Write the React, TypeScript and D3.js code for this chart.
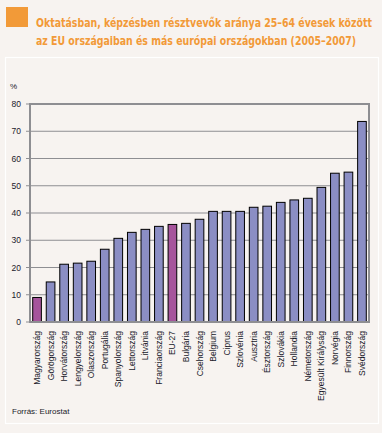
import React, { useLayoutEffect, useRef } from "react";
import * as d3 from "d3";

const categories = [
  "Magyarország", "Görögország", "Horvátország", "Lengyelország", "Olaszország",
  "Portugália", "Spanyolország", "Lettország", "Litvánia", "Franciaország",
  "EU-27", "Bulgária", "Csehország", "Belgium", "Ciprus", "Szlovénia", "Ausztria",
  "Észtország", "Szlovákia", "Hollandia", "Németország", "Egyesült Királyság",
  "Norvégia", "Finnország", "Svédország",
];
const values = [
  9.0, 14.7, 21.2, 21.6, 22.3, 26.7, 30.7, 32.9, 34.0, 35.1, 35.8, 36.2, 37.7,
  40.6, 40.6, 40.6, 42.1, 42.5, 43.9, 44.8, 45.4, 49.4, 54.6, 55.0, 73.6,
];
const highlighted = ["Magyarország", "EU-27"];
const yTicks = [0, 10, 20, 30, 40, 50, 60, 70, 80];
const titleLines = [
  "Oktatásban, képzésben résztvevők aránya 25–64 évesek között",
  "az EU országaiban és más európai országokban (2005–2007)",
];
const titleWidths = [336, 320];
const yUnit = "%";
const source = "Forrás: Eurostat";

export default function App() {
  const W = 382, H = 433;
  const left = 30, right = 369, top = 104, bottom = 322;
  const x = d3.scaleBand<string>().domain(categories).range([left, right]).paddingInner(0.36).paddingOuter(0.2);
  const y = d3.scaleLinear().domain([0, 80]).range([bottom, top]);
  const grid = "#8e8e92";
  const font = "'Liberation Sans', Arial, sans-serif";
  const titleRef = useRef<SVGGElement>(null);

  useLayoutEffect(() => {
    const g = titleRef.current;
    if (!g) return;
    d3.select(g).selectAll<SVGTextElement, unknown>("text").each(function (_, i) {
      const w = this.getComputedTextLength();
      const s = w > 0 ? titleWidths[i] / w : 1;
      d3.select(this).attr("transform", `translate(36,${27 + i * 17.5}) scale(${s},1)`);
    });
  }, []);

  return (
    <svg width={W} height={H} style={{ position: "absolute", left: 0, top: 0, display: "block" }}>
      <rect x={0} y={0} width={W} height={H} fill="#f7f3f0" />
      <rect x={5.5} y={57.5} width={373} height={366} fill="none" stroke="#ffffff" strokeWidth={1.2} />
      <rect x={6} y={7} width={22} height={20} fill="#f29a38" />
      <g ref={titleRef}>
        {titleLines.map((t, i) => (
          <text key={i} transform={`translate(36,${27 + i * 17.5}) scale(0.85,1)`} fill="#f29a38"
            fontFamily="'DejaVu Sans Condensed', 'Liberation Sans', sans-serif"
            fontWeight="bold" fontSize={12}>
            {t}
          </text>
        ))}
      </g>
      <text x={10} y={89} fontFamily={font} fontSize={8} fill="#1a1a2a">{yUnit}</text>
      {yTicks.map((t) => (
        <g key={t}>
          <line x1={left - 4} x2={right} y1={y(t)} y2={y(t)} stroke={grid} strokeWidth={1.2} />
          <text x={21} y={y(t) + 3} textAnchor="end" fontFamily={font} fontSize={8.5} fill="#1a1a2a">{t}</text>
        </g>
      ))}
      {categories.map((c, i) => (
        <rect key={c} x={x(c)} y={y(values[i])} width={x.bandwidth()} height={bottom - y(values[i])}
          fill={highlighted.includes(c) ? "#a6559c" : "#8b8ec4"} stroke="#000" strokeWidth={1} />
      ))}
      <rect x={left} y={top} width={right - left} height={bottom - top} fill="none" stroke={grid} strokeWidth={2} />
      {categories.map((c) => {
        const cx = (x(c) as number) + x.bandwidth() / 2;
        return (
          <text key={c} transform={`translate(${cx + 3},${331}) rotate(-90)`} textAnchor="end"
            fontFamily={font} fontSize={8.5} fill="#1a1a2a">{c}</text>
        );
      })}
      <text x={12} y={414} fontFamily={font} fontSize={8} fill="#1a1a2a">{source}</text>
    </svg>
  );
}
